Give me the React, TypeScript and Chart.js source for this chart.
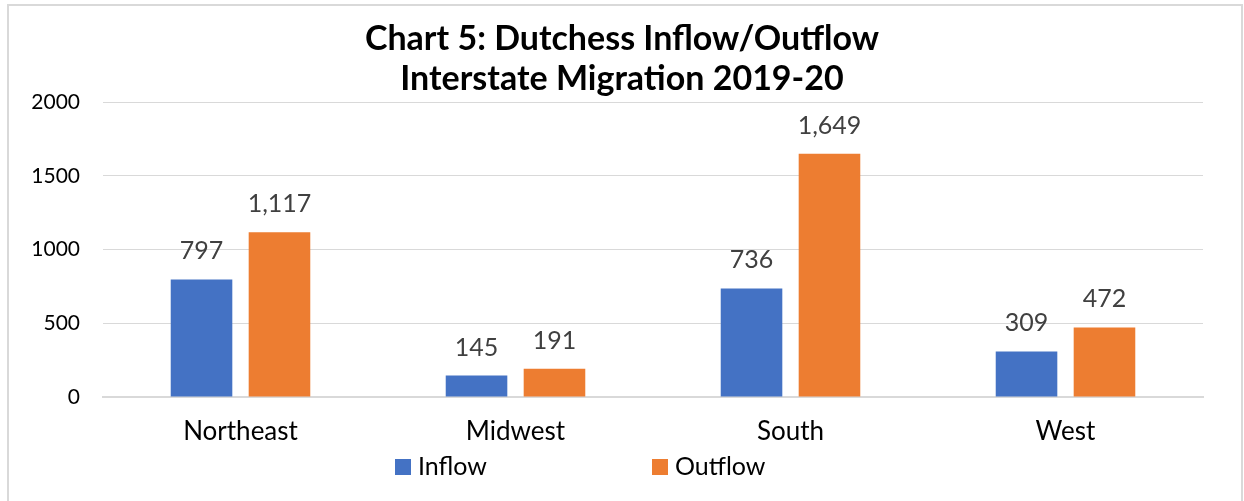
import React, { useEffect, useRef } from "react";
import { Chart, registerables } from "chart.js";

Chart.register(...registerables);

const categories = ["Northeast", "Midwest", "South", "West"];
const inflow = [797, 145, 736, 309];
const outflow = [1117, 191, 1649, 472];
const seriesNames = ["Inflow", "Outflow"];
const titleLines = ["Chart 5: Dutchess Inflow/Outflow", "Interstate Migration 2019-20"];
const yTicks = [0, 500, 1000, 1500, 2000];

const FONT = "Lato, 'Open Sans', sans-serif";
const BLUE = "#4472C4";
const ORANGE = "#ED7D31";

const dataLabelPlugin = {
  id: "dataLabels",
  afterDatasetsDraw(chart: any) {
    const ctx = chart.ctx;
    ctx.save();
    ctx.font = `25px ${FONT}`;
    ctx.fillStyle = "#404040";
    ctx.textAlign = "center";
    ctx.textBaseline = "alphabetic";
    chart.data.datasets.forEach((ds: any, di: number) => {
      const meta = chart.getDatasetMeta(di);
      meta.data.forEach((el: any, i: number) => {
        const v = ds.data[i];
        ctx.fillText(Number(v).toLocaleString("en-US"), el.x, el.y - 20);
      });
    });
    ctx.restore();
  },
};

const legendPlugin = {
  id: "customLegend",
  afterDraw(chart: any) {
    const ctx = chart.ctx;
    const area = chart.chartArea;
    const offsets = [292, 549];
    ctx.save();
    ctx.font = `25px ${FONT}`;
    ctx.textBaseline = "middle";
    ctx.textAlign = "left";
    chart.data.datasets.forEach((ds: any, i: number) => {
      const x = area.left + offsets[i];
      const y = 459;
      ctx.fillStyle = ds.backgroundColor;
      ctx.fillRect(x, y, 16, 16);
      ctx.fillStyle = "#000000";
      ctx.fillText(ds.label, x + 23, y + 8);
    });
    ctx.restore();
  },
};

export default function App() {
  const canvasRef = useRef<HTMLCanvasElement | null>(null);

  useEffect(() => {
    if (!canvasRef.current) return;
    const chart = new Chart(canvasRef.current, {
      type: "bar",
      data: {
        labels: categories,
        datasets: [
          { label: seriesNames[0], data: inflow, backgroundColor: BLUE, yAxisID: "y" },
          { label: seriesNames[1], data: outflow, backgroundColor: ORANGE, yAxisID: "y" },
        ],
      },
      options: {
        responsive: false,
        animation: false,
        devicePixelRatio: 1,
        layout: { padding: { left: 0, right: 0, top: 0, bottom: 0 } },
        datasets: {
          bar: { categoryPercentage: 0.567, barPercentage: 0.79 },
        },
        plugins: {
          legend: { display: false },
          tooltip: { enabled: false },
          title: {
            display: true,
            text: titleLines,
            color: "#000000",
            font: { family: FONT, size: 34, weight: "bold", lineHeight: 40 / 34 },
            padding: { top: 19, bottom: 3 },
          },
        },
        scales: {
          x: {
            grid: { display: false, drawTicks: false },
            border: { display: true, color: "#d9d9d9", width: 2 },
            ticks: {
              color: "#000000",
              font: { family: FONT, size: 26 },
              padding: 19,
            },
            afterFit(scale: any) {
              scale.height = 104;
            },
          },
          y: {
            position: "left",
            min: 0,
            max: 2000,
            afterBuildTicks(scale: any) {
              scale.ticks = yTicks.map((v) => ({ value: v }));
            },
            grid: { color: "#d9d9d9", lineWidth: 1, drawTicks: false },
            border: { display: false },
            ticks: {
              color: "#000000",
              font: { family: FONT, size: 21 },
              padding: 23,
              callback: (v: any) => String(v),
            },
            afterFit(scale: any) {
              scale.width = 103;
            },
          },
          yRight: {
            position: "right",
            display: true,
            grid: { display: false, drawTicks: false },
            border: { display: false },
            ticks: { display: false },
            afterFit(scale: any) {
              scale.width = 41;
            },
          },
        },
      },
      plugins: [dataLabelPlugin, legendPlugin],
    });
    return () => chart.destroy();
  }, []);

  return (
    <div
      style={{
        position: "fixed",
        left: 0,
        top: 0,
        width: 1244,
        height: 501,
        background: "#ffffff",
        overflow: "hidden",
      }}
    >
      <div
        style={{
          position: "absolute",
          left: 7,
          top: 4,
          width: 1236,
          height: 600,
          border: "2px solid #d9d9d9",
          boxSizing: "border-box",
        }}
      />
      <canvas
        ref={canvasRef}
        width={1244}
        height={501}
        style={{ position: "absolute", left: 0, top: 0, width: 1244, height: 501 }}
      />
    </div>
  );
}
